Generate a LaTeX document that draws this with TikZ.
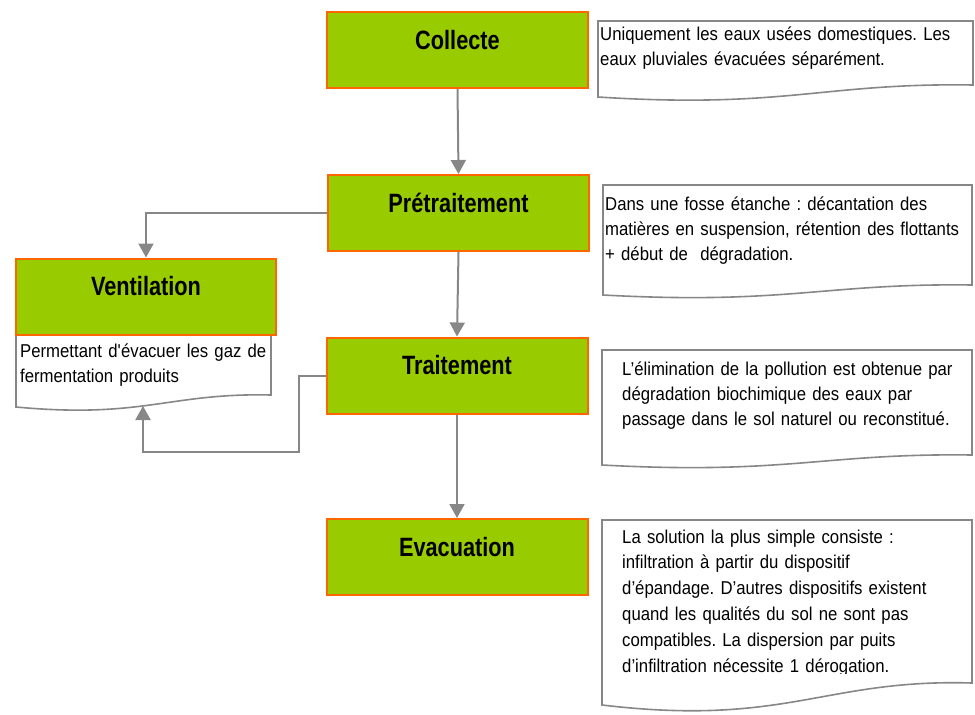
\documentclass[tikz,border=0pt]{standalone}
\usepackage{fontspec}
\setmainfont{Liberation Sans}[FakeStretch=0.9]
\newfontfamily\titrefont{Liberation Sans}[FakeStretch=0.82]
\frenchspacing
\usetikzlibrary{arrows.meta, positioning, calc}
\definecolor{cvert}{HTML}{99CC00}
\definecolor{corange}{HTML}{FF6600}
\definecolor{cgris}{HTML}{878787}

\tikzset{
  etape/.style={rectangle, fill=cvert, draw=corange, line width=2pt,
    minimum width=261pt, inner sep=0pt, text height=37pt, text depth=39pt,
    font=\fontsize{26.5}{30}\titrefont\bfseries},
  papier/.style={draw=cgris, line width=1.6pt, fill=white},
  texte/.style={anchor=base west, inner sep=0pt, align=left,
    font=\fontsize{18.6}{25}\selectfont},
  fleche/.style={draw=cgris, line width=2pt, -{Triangle[width=15pt,length=14pt]}},
}
% feuille : gauche, haut, droite, bas gauche, bas droit
\newcommand{\feuille}[5]{%
  \draw[papier] (#1,#2) -- (#3,#2) -- (#3,#5)
    .. controls ({#1+0.6*(#3-#1)},{#5-0.2*(#4-#5)}) and ({#1+0.5*(#3-#1)},{#4+(#4-#5)}) .. (#1,#4) -- cycle;}
\newcommand{\pleine}[1]{\leavevmode\hbox to\hsize{#1}}

\begin{document}
\begin{tikzpicture}[x=1pt, y=-1pt]
  \useasboundingbox (0,0) rectangle (975,715);

  % les notes
  \feuille{598}{21}{973}{97}{85}
  \feuille{603}{185}{972}{295}{285}
  \feuille{602}{350}{972}{465}{455}
  \feuille{602}{520}{972}{705}{683}
  \feuille{16}{334}{271}{407}{395}

  \node[texte, text width=372pt] (n1) at (600,40)
    {\pleine{Uniquement les eaux usées domestiques. Les}\\eaux pluviales évacuées séparément.};
  \node[texte, text width=366pt] (n2) at (605,210)
    {\pleine{Dans une fosse étanche : décantation des}\\
     \pleine{matières en suspension, rétention des flottants}\\
     + début de\ \ dégradation.};
  \node[texte, text width=330pt] (n3) at (622,375)
    {\pleine{L’élimination de la pollution est obtenue par}\\
     \pleine{dégradation biochimique des eaux par}\\
     \pleine{passage dans le sol naturel ou reconstitué.}};
  \begin{scope}
    \clip (600,520) rectangle (975,673);
    \node[texte, text width=340pt, font=\fontsize{18.6}{25.8}\selectfont] (n4) at (622,543)
      {La solution la plus simple consiste :\\
       infiltration à partir du dispositif\\
       d’épandage. D’autres dispositifs existent\\
       quand les qualités du sol ne sont pas\\
       compatibles. La dispersion par puits\\
       d’infiltration nécessite 1 dérogation.};
  \end{scope}
  \node[texte, text width=250pt] (nvent) at (20,357)
    {Permettant d\textquotesingle évacuer les gaz de\\fermentation produits};

  % les etapes
  \node[etape] (collecte) at (457.5,50) {Collecte};
  \node[etape] (pretrait) at (458.5,213) {Prétraitement};
  \node[etape] (trait) at (457,375.5) {Traitement};
  \node[etape] (evac) at (457,557) {Evacuation};
  \node[etape, minimum width=260pt] (vent) at (146,296.5) {Ventilation};

  % les fleches
  \coordinate (coude) at (299,452);
  \coordinate (ventbas) at (143,406);
  \draw[fleche] (collecte.south) -- (pretrait.north);
  \draw[fleche] (pretrait.south) -- (trait.north);
  \draw[fleche] (trait.south) -- (evac.north);
  \draw[fleche] (pretrait.west) -| (vent.north);
  \draw[fleche] (trait.west) -| (coude) -| (ventbas);
\end{tikzpicture}
\end{document}
